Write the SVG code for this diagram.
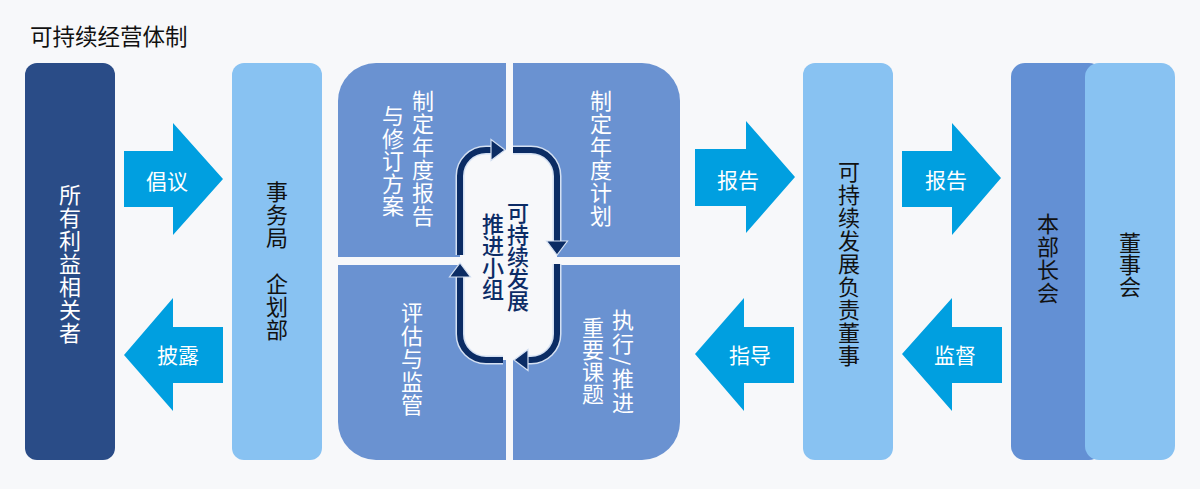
<svg xmlns="http://www.w3.org/2000/svg" width="1200" height="489" viewBox="0 0 1200 489">
  <style>
    text { font-family: "Noto Sans CJK SC", "Noto Sans", sans-serif; font-size: 22px; text-anchor: middle; }
    .v { writing-mode: vertical-rl; letter-spacing: 1px; }
    .h { dominant-baseline: central; }
    .w { fill: #ffffff; }
    .k { fill: #111111; }
    .n { fill: #0c2c66; font-weight: 500; }
    .lbl { font-size: 21px; fill: #ffffff; dominant-baseline: central; }
    .dark { fill: #2a4c87; }
    .light { fill: #88c2f2; }
    .mid { fill: #6390d4; }
    .quad { fill: #6a92d1; }
    .bg { fill: #f7f8fa; }
    .arr { fill: #009fe0; }
    .loop { fill: none; stroke: #0b2c64; stroke-width: 6; }
    .loopedge { fill: none; stroke: #d4e0f2; stroke-width: 9; }
    .head { fill: #0b2c64; stroke: #d4e0f2; stroke-width: 1.2; }
  </style>
  <rect class="bg" x="0" y="0" width="1200" height="489"/>

  <text id="title" class="k h" x="30" y="35" style="text-anchor:start;font-size:22.5px">可持续经营体制</text>

  <g id="stakeholders">
    <rect class="dark" x="25" y="63" width="90" height="397" rx="12"/>
    <text class="w v" x="70" y="264">所有利益相关者</text>
  </g>

  <g id="secretariat">
    <rect class="light" x="232" y="63" width="90" height="397" rx="12"/>
    <text class="k v" x="277" y="261">事务局　企划部</text>
  </g>

  <g id="promotion-group">
    <rect class="quad" x="338" y="63" width="342" height="397" rx="38"/>
    <rect class="bg" x="506" y="60" width="7" height="404"/>
    <rect class="bg" x="334" y="257" width="350" height="8"/>
    <rect class="bg" x="460" y="150" width="97" height="210" rx="26"/>
    <g id="q-report">
      <text class="w v" x="423" y="159">制定年度报告</text>
      <text class="w v" x="393" y="161" style="letter-spacing:0.5px">与修订方案</text>
    </g>
    <g id="q-plan">
      <text class="w v" x="601" y="159">制定年度计划</text>
    </g>
    <g id="q-evaluate">
      <text class="w v" x="412" y="359">评估与监管</text>
    </g>
    <g id="q-execute">
      <text class="w v" x="623" y="362" style="letter-spacing:2px">执行/推进</text>
      <text class="w v" x="593" y="361" style="letter-spacing:0px">重要课题</text>
    </g>
    <g id="cycle">
      <path class="loopedge" d="M460 255 V176 A26 26 0 0 1 486 150 H492"/>
      <path class="loopedge" d="M513 150 H531 A26 26 0 0 1 557 176 V242"/>
      <path class="loopedge" d="M557 264 V334 A26 26 0 0 1 531 360 H528"/>
      <path class="loopedge" d="M503 360 H486 A26 26 0 0 1 460 334 V277"/>
      <path class="loop" d="M460 255 V176 A26 26 0 0 1 486 150 H492"/>
      <path class="loop" d="M513 150 H531 A26 26 0 0 1 557 176 V242"/>
      <path class="loop" d="M557 264 V334 A26 26 0 0 1 531 360 H528"/>
      <path class="loop" d="M503 360 H486 A26 26 0 0 1 460 334 V277"/>
      <polygon class="head" points="491,139.5 505,150 491,160.5"/>
      <polygon class="head" points="546.5,241 567.5,241 557,255"/>
      <polygon class="head" points="528,349.5 528,370.5 514,360"/>
      <polygon class="head" points="449.5,277 470.5,277 460,263"/>
      <text class="n v" x="518" y="257" style="letter-spacing:0px">可持续发展</text>
      <text class="n v" x="493" y="256.5" style="letter-spacing:0px">推进小组</text>
    </g>
  </g>

  <g id="director">
    <rect class="light" x="803" y="63" width="90" height="397" rx="12"/>
    <text class="k v" x="849" y="264.5">可持续发展负责董事</text>
  </g>

  <g id="executive-meeting">
    <rect class="mid" x="1011" y="63" width="92" height="397" rx="14"/>
    <text class="k v" x="1048" y="258.5">本部长会</text>
  </g>

  <g id="board">
    <rect class="light" x="1085" y="63" width="90" height="397" rx="14"/>
    <text class="k v" x="1130" y="265" style="letter-spacing:0px">董事会</text>
  </g>

  <g id="connectors">
    <g id="c-advocate">
      <polygon class="arr" points="124,151 173,151 173,123 223,179 173,235 173,207 124,207"/>
      <text class="lbl" x="167" y="180">倡议</text>
    </g>
    <g id="c-disclose">
      <polygon class="arr" points="124,355 173,298 173,327 223,327 223,383 173,383 173,411"/>
      <text class="lbl" x="178" y="354">披露</text>
    </g>
    <g id="c-report1">
      <polygon class="arr" points="695,149 746,149 746,121 795,177 746,233 746,206 695,206"/>
      <text class="lbl" x="738" y="179">报告</text>
    </g>
    <g id="c-guide">
      <polygon class="arr" points="695,354 744,298 744,327 794,327 794,383 744,383 744,411"/>
      <text class="lbl" x="750" y="354">指导</text>
    </g>
    <g id="c-report2">
      <polygon class="arr" points="902,151 952,151 952,123 1001,178 952,235 952,207 902,207"/>
      <text class="lbl" x="946" y="179">报告</text>
    </g>
    <g id="c-supervise">
      <polygon class="arr" points="902,354 952,298 952,327 1002,327 1002,383 952,383 952,411"/>
      <text class="lbl" x="955" y="354">监督</text>
    </g>
  </g>
</svg>
